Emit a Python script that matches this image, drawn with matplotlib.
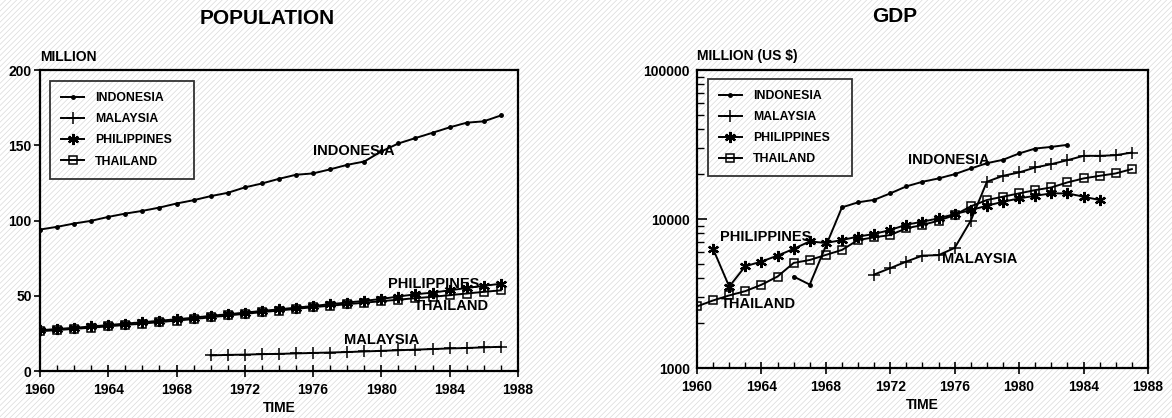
import matplotlib
matplotlib.use("Agg")
import matplotlib.pyplot as plt
import matplotlib.ticker as ticker
from matplotlib.patches import Rectangle

plt.rcParams['font.family'] = ['Liberation Sans', 'DejaVu Sans']
plt.rcParams['hatch.linewidth'] = 0.5

# population, million
pop_years = list(range(1960, 1988))
pop_indonesia = [94.0, 95.8, 98.0, 99.8, 102.4, 104.6, 106.4, 108.6, 111.3, 113.5,
                 116.2, 118.4, 122.0, 124.6, 127.7, 130.4, 131.3, 134.0, 137.0, 139.2,
                 145.9, 151.2, 154.8, 158.3, 161.9, 165.0, 165.9, 169.8]
pop_philippines = [27.1, 27.9, 28.7, 29.6, 30.5, 31.5, 32.4, 33.4, 34.4, 35.4,
                   36.7, 37.7, 38.8, 39.9, 41.0, 42.1, 43.2, 44.4, 45.5, 46.6,
                   47.9, 49.5, 51.0, 52.1, 53.6, 55.2, 56.6, 58.0]
pop_thailand = [26.4, 27.2, 28.0, 28.8, 29.7, 30.6, 31.5, 32.5, 33.5, 34.5,
                35.7, 36.9, 38.0, 39.1, 40.2, 41.3, 42.4, 43.4, 44.4, 45.4,
                46.4, 47.4, 48.4, 49.3, 50.4, 51.5, 52.6, 53.6]
pop_malaysia_years = list(range(1970, 1988))
pop_malaysia = [10.4, 10.7, 10.9, 11.2, 11.4, 11.7, 12.0, 12.3, 12.6, 13.0,
                13.4, 13.8, 14.2, 14.6, 15.0, 15.3, 15.7, 16.1]

# GDP, million US $
gdp_indonesia_years = [1966, 1967, 1969, 1970, 1971, 1972, 1973, 1974, 1975,
                       1976, 1977, 1978, 1979, 1980, 1981, 1982, 1983]
gdp_indonesia = [4110, 3630, 11970, 12940, 13450, 14860, 16560, 17780, 18720,
                 20000, 21830, 23700, 24970, 27540, 29720, 30480, 31460]
gdp_malaysia_years = list(range(1971, 1988))
gdp_malaysia = [4240, 4680, 5180, 5680, 5720, 6400, 9750, 17780, 19500,
                20540, 22180, 23340, 24820, 26550, 26550, 26800, 27930]
gdp_philippines_years = list(range(1961, 1986))
gdp_philippines = [6300, 3520, 4820, 5180, 5680, 6300, 7080, 6900, 7230, 7620,
                   7940, 8440, 9160, 9600, 10100, 10790, 11480, 12280, 13060, 13750,
                   14330, 14860, 14860, 14120, 13410]
gdp_thailand_years = list(range(1960, 1988))
gdp_thailand = [2590, 2840, 3070, 3280, 3620, 4110, 5070, 5310, 5740, 6200,
                7230, 7530, 7810, 8660, 9120, 9750, 10640, 12160, 13410, 14120,
                14860, 15630, 16290, 17610, 18720, 19500, 20230, 21630]

year_ticks = [1960, 1964, 1968, 1972, 1976, 1980, 1984, 1988]

styles = {
    'INDONESIA': dict(marker='.', markersize=5),
    'MALAYSIA': dict(marker='+', markersize=9, markeredgewidth=1.1),
    'PHILIPPINES': dict(marker=(6, 2, 0), markersize=8, markeredgewidth=1.6),
    'THAILAND': dict(marker='s', markersize=6, fillstyle='none', markeredgewidth=1.1),
}

fig = plt.figure(figsize=(11.72, 4.18), dpi=100)
fig.patch.set_facecolor('white')
# grainy paper backdrop
fig.patches.append(Rectangle((0, 0), 1, 1, transform=fig.transFigure, facecolor='white',
                             edgecolor='#dadada', hatch='//////', linewidth=0, zorder=-10))

ax1 = fig.add_axes([0.0341, 0.1124, 0.4078, 0.7201])
ax2 = fig.add_axes([0.5947, 0.1196, 0.3848, 0.7129])


def draw(ax, x, y, name):
    ax.plot(x, y, color='black', linewidth=1.4, label=name, **styles[name])


def style_axes(ax, legend_box):
    ax.set_facecolor('none')
    for side in ['top', 'right', 'bottom', 'left']:
        ax.spines[side].set_linewidth(1.6)
    ax.set_xlim(1960, 1988)
    ax.set_xticks(year_ticks)
    ax.xaxis.set_minor_locator(ticker.MultipleLocator(1))
    ax.tick_params(axis='x', which='major', direction='inout', length=9, width=1.2,
                   pad=4, labelsize=10)
    ax.tick_params(axis='x', which='minor', direction='in', length=4, width=1.0)
    for lab in ax.get_xticklabels() + ax.get_yticklabels():
        lab.set_fontweight('bold')
    ax.set_xlabel('TIME', fontsize=10, fontweight='bold', labelpad=3)
    leg = ax.legend(loc='upper left', bbox_to_anchor=legend_box, mode='expand',
                    frameon=True, fancybox=False, handlelength=1.9, handletextpad=0.9,
                    labelspacing=0.75, borderpad=0.9, borderaxespad=0,
                    prop={'weight': 'bold', 'size': 8.8})
    leg.get_frame().set_edgecolor('black')
    leg.get_frame().set_linewidth(1.3)
    leg.get_frame().set_facecolor('none')


# population panel
draw(ax1, pop_years, pop_indonesia, 'INDONESIA')
draw(ax1, pop_malaysia_years, pop_malaysia, 'MALAYSIA')
draw(ax1, pop_years, pop_philippines, 'PHILIPPINES')
draw(ax1, pop_years, pop_thailand, 'THAILAND')
ax1.set_ylim(0, 200)
ax1.set_yticks([0, 50, 100, 150, 200])
ax1.tick_params(axis='y', direction='out', length=4, width=1.2, pad=2, labelsize=10)
style_axes(ax1, (0.021, 0.0, 0.301, 0.963))
ax1.text(0, 1.043, 'MILLION', transform=ax1.transAxes, fontsize=10, fontweight='bold',
         ha='left', va='center')
lbl = dict(fontsize=10.5, fontweight='bold', ha='left', va='center')
ax1.text(1976.0, 146, 'INDONESIA', **lbl)
ax1.text(1980.4, 57.8, 'PHILIPPINES', **lbl)
ax1.text(1981.9, 43.4, 'THAILAND', **lbl)
ax1.text(1977.8, 20.6, 'MALAYSIA', **lbl)

# GDP panel
draw(ax2, gdp_indonesia_years, gdp_indonesia, 'INDONESIA')
draw(ax2, gdp_malaysia_years, gdp_malaysia, 'MALAYSIA')
draw(ax2, gdp_philippines_years, gdp_philippines, 'PHILIPPINES')
draw(ax2, gdp_thailand_years, gdp_thailand, 'THAILAND')
ax2.set_yscale('log')
ax2.set_ylim(1000, 100000)
ax2.yaxis.set_major_locator(ticker.FixedLocator([1000, 10000, 100000]))
ax2.yaxis.set_major_formatter(ticker.FixedFormatter(['1000', '10000', '100000']))
ax2.yaxis.set_minor_locator(ticker.LogLocator(base=10, subs=range(2, 10)))
ax2.yaxis.set_minor_formatter(ticker.NullFormatter())
ax2.tick_params(axis='y', which='major', direction='in', length=7, width=1.2, pad=5,
                labelsize=10)
ax2.tick_params(axis='y', which='minor', direction='in', length=5, width=1.0)
style_axes(ax2, (0.024, 0.0, 0.319, 0.970))
ax2.text(0, 1.047, 'MILLION (US $)', transform=ax2.transAxes, fontsize=10,
         fontweight='bold', ha='left', va='center')
ax2.text(1973.1, 24800, 'INDONESIA', **lbl)
ax2.text(1961.4, 7530, 'PHILIPPINES', **lbl)
ax2.text(1961.5, 2700, 'THAILAND', **lbl)
ax2.text(1975.2, 5400, 'MALAYSIA', **lbl)

fig.text(267 / 1172, 1 - 18 / 418, 'POPULATION', fontsize=15, fontweight='bold',
         ha='center', va='center')
fig.text(895 / 1172, 1 - 17 / 418, 'GDP', fontsize=15, fontweight='bold',
         ha='center', va='center')

fig.savefig('out.png', dpi=100)
